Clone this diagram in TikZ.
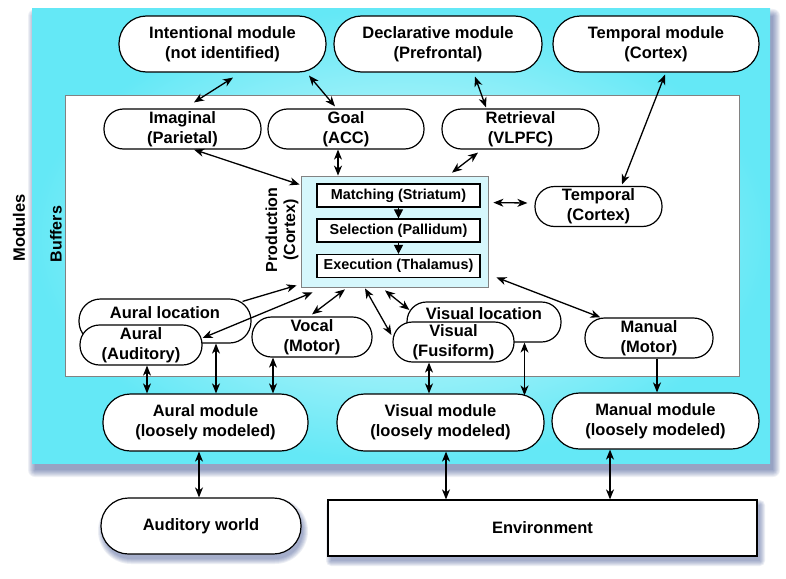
\documentclass[tikz,border=0pt]{standalone}
\usepackage{fontspec}
\setmainfont{Liberation Sans}
\usetikzlibrary{arrows.meta,calc}
\definecolor{cyanedge}{RGB}{100,232,246}
\definecolor{cyanlight}{RGB}{232,252,253}
\definecolor{prodfill}{RGB}{214,247,252}
\definecolor{shadowblue}{RGB}{20,45,120}
\definecolor{boxgray}{RGB}{130,130,130}
\newcommand\mylbl{\fontsize{16.5}{20}\selectfont\bfseries}
\newcommand\mysmall{\fontsize{14.4}{17}\selectfont\bfseries}
\newcommand\myside{\fontsize{16}{18}\selectfont\bfseries}
\begin{document}
\begin{tikzpicture}[x=1pt,y=-1pt,
  mod/.style={draw, fill=white, line width=1.2pt, rounded corners=27.5pt, minimum height=56pt, inner sep=0pt, align=center, font=\mylbl},
  buf/.style={draw, fill=white, line width=1.2pt, rounded corners=19.5pt, minimum height=40pt, inner sep=0pt, align=center, font=\mylbl},
  ibox/.style={draw, fill=white, line width=1.2pt, minimum width=163pt, minimum height=23pt, inner sep=0pt, font=\mysmall},
  dbl/.style={line width=1.3pt, {Stealth[length=10pt,width=8pt,inset=3pt]}-{Stealth[length=10pt,width=8pt,inset=3pt]}},
  sgl/.style={line width=1.3pt, -{Stealth[length=10pt,width=8pt,inset=3pt]}},
  tri/.style={line width=1pt, -{Triangle[length=9pt,width=9pt]}}]
\useasboundingbox (0,0) rectangle (786,578);

% shadow of the modules panel
\foreach \s in {0,...,7} {
  \fill[shadowblue, opacity=0.07, rounded corners=\s pt] (35-\s,16-\s) rectangle (773+\s,470+\s);
}
% modules panel
\shade[inner color=cyanlight, outer color=cyanedge] (32,9) rectangle (770,463);
% buffers panel
\draw[boxgray, fill=white, line width=0.8pt] (65,95) rectangle (739,376);

\node[rotate=90, font=\mylbl] (modlbl) at (19,228) {Modules};
\node[rotate=90, font=\myside] (buflbl) at (56,234) {Buffers};

% top modules
\node[mod, minimum width=207pt] (intent) at (222.5,44) {Intentional module\\(not identified)};
\node[mod, minimum width=208pt] (decl) at (438,44) {Declarative module\\(Prefrontal)};
\node[mod, minimum width=206pt] (tempm) at (656,44) {Temporal module\\(Cortex)};

% buffers
\node[buf, minimum width=157pt] (imag) at (182.5,129) {Imaginal\\(Parietal)};
\node[buf, minimum width=156pt] (goal) at (346,129) {Goal\\(ACC)};
\node[buf, minimum width=157pt] (retr) at (520.5,129) {Retrieval\\(VLPFC)};
\node[buf, minimum width=127pt] (tempb) at (598.5,206.5) {Temporal\\(Cortex)};

% production
\node[draw=boxgray, fill=prodfill, line width=0.8pt, minimum width=187pt, minimum height=111pt, inner sep=0pt] (prod) at (394.5,231.5) {};
\node[ibox] (match) at (398.5,195.5) {Matching (Striatum)};
\node[ibox] (sel) at (398.5,230.5) {Selection (Pallidum)};
\node[ibox] (exec) at (398.5,266) {Execution (Thalamus)};
\draw[tri] (match.south) -- (sel.north);
\draw[tri] (sel.south) -- (exec.north);
\node[rotate=90, font=\myside, align=center] (prodlbl) at (282,230) {Production\\(Cortex)};

% perceptual / motor buffers
\node[buf, rounded corners=21.5pt, minimum width=172pt, minimum height=44pt] (aurloc) at (165,321) {\smash{\raisebox{3pt}{Aural location}}};
\node[buf, minimum width=122pt] (aural) at (141,345) {Aural\\(Auditory)};
\node[buf, minimum width=120pt] (vocal) at (312,337) {Vocal\\(Motor)};
\node[buf, minimum width=154pt] (visloc) at (484,322) {\smash{\raisebox{3pt}{Visual location}}};
\node[buf, minimum width=121pt] (visual) at (453.5,342) {Visual\\(Fusiform)};
\node[buf, minimum width=128pt] (manual) at (649,338) {Manual\\(Motor)};

% bottom modules
\node[mod, minimum width=205pt, minimum height=57pt] (aurmod) at (205.5,422.5) {Aural module\\(loosely modeled)};
\node[mod, minimum width=207pt, minimum height=57pt] (vismod) at (440.5,422.5) {Visual module\\(loosely modeled)};
\node[mod, minimum width=207pt] (manmod) at (655.5,421) {Manual module\\(loosely modeled)};

% world shadows
\foreach \s in {0,...,5} {
  \fill[shadowblue, opacity=0.08, rounded corners=28+\s] (103-\s,503-\s) rectangle (303+\s,559+\s);
  \fill[shadowblue, opacity=0.08, rounded corners=\s pt] (331-\s,505-\s) rectangle (760+\s,561+\s);
}
\node[mod, minimum width=200pt] (audw) at (201,526) {Auditory world};
\node[draw, fill=white, line width=1.2pt, minimum width=429pt, minimum height=56pt, inner sep=0pt, font=\mylbl] (env) at (542.5,528) {Environment};

% connectors: modules <-> buffers
\draw[dbl] ($(intent.south)+(10.5,5)$) -- ($(imag.north)+(11.5,-6)$);
\draw[dbl] ($(intent.south)+(86.5,3)$) -- ($(goal.north)+(-11,-2)$);
\draw[dbl] ($(decl.south)+(37,4)$) -- ($(retr.north)+(-34.5,-1)$);
\draw[dbl] ($(tempm.south)+(9,2)$) -- ($(tempb.north)+(23.5,-1.5)$);

% buffers <-> production
\draw[dbl] ($(imag.south)+(11.5,0)$) -- ($(prod.north west)+(-1,9)$);
\draw[dbl] ($(goal.south)+(-8,0)$) -- ($(prod.north)+(-56.5,0)$);
\draw[dbl] ($(retr.south)+(-42.5,3)$) -- ($(prod.north)+(57.5,-3)$);
\draw[dbl] ($(prod.north east)+(5,27)$) -- ($(tempb.west)+(-7,-3.5)$);
\draw[sgl] ($(aurloc.north east)+(-9,3)$) -- ($(prod.south west)+(-4,-2)$);
\draw[dbl] ($(prod.south west)+(12,5)$) -- ($(aural.east)+(0,-7)$);
\draw[dbl] ($(prod.south)+(-49.5,2)$) -- ($(vocal.north)+(0,-2)$);
\draw[dbl] ($(prod.south)+(-29.5,1)$) -- ($(visual.west)+(-1,-7)$);
\draw[dbl] ($(prod.south)+(-9.5,3)$) -- ($(visloc.west)+(3,-12)$);
\draw[dbl] ($(prod.south east)+(8,-10)$) -- ($(manual.north west)+(16,0)$);

% buffers <-> bottom modules
\draw[dbl] ($(aural.south)+(6,0)$) -- ($(aurmod.north)+(-58.5,0)$);
\draw[dbl] ($(aurloc.south)+(51,0)$) -- ($(aurmod.north)+(10.5,0)$);
\draw[dbl] ($(vocal.south)+(-39,0)$) -- ($(aurmod.north)+(67.5,0)$);
\draw[dbl] ($(visual.south)+(-24.5,0)$) -- ($(vismod.north)+(-11.5,0)$);
\draw[dbl] ($(visloc.south)+(40.5,0)$) -- ($(vismod.north)+(84,2)$);
\draw[sgl] ($(manual.south)+(8,0)$) -- ($(manmod.north)+(1.5,0)$);

% modules <-> world
\draw[dbl] ($(aurmod.south)+(-6.5,0)$) -- ($(audw.north)+(-2,0)$);
\draw[dbl] ($(vismod.south)+(5.5,0)$) -- ($(env.north)+(-96.5,0)$);
\draw[dbl] ($(manmod.south)+(-45.5,0)$) -- ($(env.north)+(67.5,0)$);
\end{tikzpicture}
\end{document}
